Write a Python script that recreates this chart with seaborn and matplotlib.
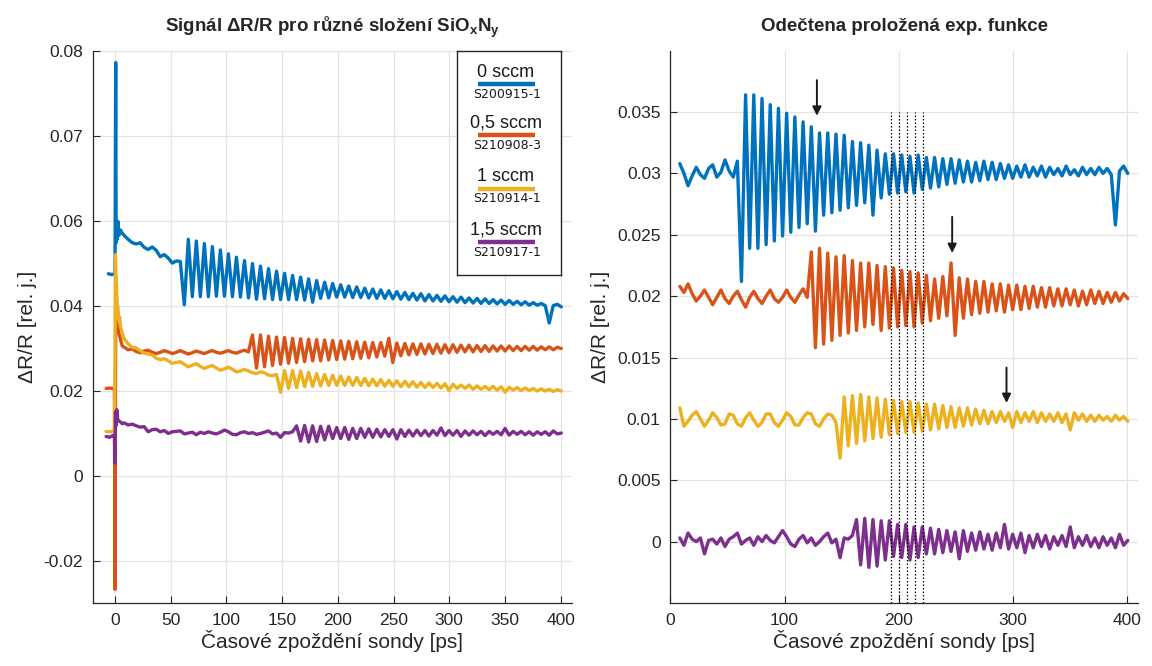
import numpy as np
import matplotlib
matplotlib.use("Agg")
import matplotlib.pyplot as plt
import seaborn as sns

# ---------------- data (values in units of 1e-4) ----------------
SCALE = 1e-4
grid_start, grid_step, grid_stop = 8.2, 3.6, 401.0   # probe-delay sampling [ps]

# right panel: signal minus fitted exponential (offset traces)
right_blue = [308,300,290,298,305,299,296,304,307,297,
              301,311,302,297,310,212,364,239,364,239,
              361,242,356,245,353,249,349,252,346,256,
              342,259,338,253,333,266,333,268,332,270,
              331,272,326,274,325,276,323,266,319,280,
              316,283,316,284,315,285,314,284,315,287,
              313,288,313,289,312,291,312,292,311,293,
              310,293,309,294,310,295,309,295,308,296,
              307,296,306,297,307,297,305,298,306,297,
              305,299,304,298,306,299,303,298,305,299,
              304,299,305,300,304,299,258,302,306,300]
right_orange = [208,203,210,202,196,200,205,199,193,199,
                205,198,194,200,204,197,191,199,204,198,
                194,200,205,198,195,199,205,199,195,201,
                206,199,236,158,239,161,235,164,232,168,
                233,170,229,172,227,175,227,177,225,172,
                224,174,223,175,221,176,220,175,219,178,
                217,180,214,182,216,184,227,168,215,182,
                214,185,212,186,212,187,210,188,210,187,
                209,189,209,189,208,190,208,191,207,191,
                207,192,206,192,206,193,205,192,204,193,
                205,194,204,194,203,195,203,196,202,198]
right_yellow = [109,94,98,103,106,100,94,99,105,101,
                95,96,104,103,96,94,101,105,99,94,
                97,104,104,97,94,99,105,102,95,95,
                101,105,104,96,94,100,104,103,97,68,
                118,78,119,80,120,82,118,84,117,85,
                116,87,115,88,114,89,114,89,113,90,
                112,91,112,92,111,93,110,93,109,94,
                109,95,108,96,107,96,106,97,106,98,
                105,93,106,97,105,98,106,97,105,98,
                104,98,105,97,104,91,105,99,104,98,
                103,98,103,99,102,98,103,99,102,98]
right_purple = [3,-3,7,2,0,3,-10,1,2,-2,
                3,-4,2,4,7,-2,1,3,-3,4,
                0,5,1,-1,4,9,4,-2,-4,2,
                5,-1,3,-3,0,4,7,-1,2,-13,
                3,2,5,18,-19,19,-21,18,-20,17,
                -15,17,-12,14,-13,14,-15,12,-13,12,
                -10,11,-10,10,-9,9,-8,8,-14,9,
                -8,7,-7,8,-6,6,-7,7,-5,14,
                -6,6,-5,7,-9,5,-5,6,-4,5,
                -6,4,-3,5,-4,12,-5,4,-3,5,
                -4,3,-5,4,-3,3,-5,6,-3,1]

# left panel: raw signal; early part (around zero delay) + regular grid part
left_blue_t0 = [-6,-3,-1,0,0.6,1.0,1.5,2.0,2.6,3.4,4.2,5.0,6.0]
left_blue_v0 = [475,473,474,478,786,548,590,556,598,565,575,578,572]
left_blue = [565,556,548,545,548,537,532,538,530,515,
             520,512,500,505,504,402,556,421,552,421,
             546,421,539,422,531,422,522,421,514,420,
             506,418,499,415,493,416,487,414,481,414,
             476,414,471,414,467,413,463,408,459,417,
             455,418,452,420,449,420,446,419,444,419,
             441,418,439,417,437,417,435,416,433,415,
             431,414,429,413,428,411,426,411,424,410,
             423,409,421,408,420,407,418,406,417,405,
             416,405,414,404,413,403,412,403,410,402,
             409,401,407,401,405,400,359,400,403,397]
left_orange_t0 = [-8,-5,-2,-0.5,0,0.6,1.5,2.5,3.5,5.0,6.5]
left_orange_v0 = [205,206,205,204,-268,370,340,355,335,320,305]
left_orange = [302,296,298,292,289,293,295,290,287,290,
               294,291,287,290,294,290,286,289,293,290,
               287,291,294,290,288,291,294,290,288,292,
               295,291,331,253,331,256,328,259,326,262,
               325,264,323,266,322,268,321,270,320,270,
               319,272,318,273,317,274,316,275,315,276,
               314,277,313,279,313,281,323,266,312,282,
               311,284,310,285,310,286,309,287,309,288,
               308,289,308,290,307,291,307,291,306,292,
               306,292,305,293,305,293,305,294,304,294,
               304,295,304,295,303,296,303,296,302,299]
left_yellow_t0 = [-8,-5,-2,-0.5,0,0.3,1.0,1.8,2.6,3.4,4.2,5.0,6.5]
left_yellow_v0 = [104,103,104,103,280,520,470,410,395,365,372,350,335]
left_yellow = [322,310,302,300,294,288,286,284,276,273,
               275,270,264,266,268,262,256,260,263,257,
               252,256,259,253,248,251,255,250,244,246,
               250,246,242,240,244,242,236,235,238,196,
               247,205,247,207,246,209,243,210,240,211,
               238,212,236,212,234,212,232,212,231,212,
               229,211,227,211,226,210,224,210,223,209,
               222,209,221,208,219,207,218,207,217,206,
               216,200,215,205,213,205,213,203,211,203,
               210,202,210,201,209,196,208,201,207,200,
               206,200,205,199,204,199,203,198,202,199]
left_purple_t0 = [-8,-5,-2,-0.5,0,0.4,1.0,1.6,2.5,3.5,5.0,6.5]
left_purple_v0 = [92,90,94,92,29,150,118,155,130,128,126,122]
left_purple = [124,119,121,117,114,115,103,108,109,103,
               106,99,103,104,105,98,100,102,96,102,
               99,103,100,98,102,107,103,97,96,101,
               103,99,101,97,99,102,105,98,100,90,
               101,100,103,117,81,118,79,117,80,116,
               84,116,87,113,87,113,85,111,87,111,
               90,110,90,109,91,108,92,108,86,108,
               92,107,93,107,94,106,93,106,95,112,
               94,106,95,106,92,105,95,105,96,104,
               94,104,97,104,96,111,95,104,97,104,
               96,103,95,103,97,103,95,105,98,100]

legend_labels = ["0 sccm", "0,5 sccm", "1 sccm", "1,5 sccm"]
sample_ids = ["S200915-1", "S210908-3", "S210914-1", "S210917-1"]
colors = ["#0072BD", "#D95319", "#EDB120", "#7E2F8E"]

left_yticks = [-0.02, 0, 0.02, 0.04, 0.06, 0.07, 0.08]
right_yticks = [0, 0.005, 0.01, 0.015, 0.02, 0.025, 0.03, 0.035]
marker_lines_t = [193, 200, 207, 214, 221]
arrow_t = [128.3, 246.8, 294.4]
arrow_top = [0.0376, 0.02646, 0.01418]
arrow_tip = [0.0347, 0.02352, 0.0113]

# ---------------- style ----------------
sns.set_theme(style="whitegrid")
plt.rcParams["font.family"] = ["Liberation Sans", "DejaVu Sans"]
plt.rcParams["mathtext.fontset"] = "custom"
plt.rcParams["mathtext.rm"] = "Liberation Sans"
plt.rcParams["mathtext.bf"] = "Liberation Sans:bold"
plt.rcParams["axes.unicode_minus"] = False

T = np.arange(grid_start, grid_stop, grid_step)

fig = plt.figure(figsize=(11.52, 6.66), dpi=100)
axL = fig.add_axes([0.0805, 0.0946, 0.4158, 0.8293])
axR = fig.add_axes([0.5820, 0.0946, 0.40625, 0.8293])

LW = 2.4
left_sets = [(left_blue_t0, left_blue_v0, left_blue),
             (left_orange_t0, left_orange_v0, left_orange),
             (left_yellow_t0, left_yellow_v0, left_yellow),
             (left_purple_t0, left_purple_v0, left_purple)]
for (t0, v0, vg), c in zip(left_sets, colors):
    t = np.concatenate([np.array(t0, float), T])
    v = np.concatenate([np.array(v0, float), np.array(vg, float)]) * SCALE
    sns.lineplot(x=t, y=v, ax=axL, color=c, linewidth=LW, estimator=None, sort=False)

for vg, c in zip([right_blue, right_orange, right_yellow, right_purple], colors):
    sns.lineplot(x=T, y=np.array(vg, float) * SCALE, ax=axR, color=c,
                 linewidth=LW, estimator=None, sort=False)

# piecewise y-scale of the left panel (upper part expanded)
def fwd(y):
    y = np.asarray(y, float)
    return np.where(y > 0.06, 0.06 + 2 * (y - 0.06), y)

def inv(z):
    z = np.asarray(z, float)
    return np.where(z > 0.06, 0.06 + (z - 0.06) / 2, z)

axL.set_yscale("function", functions=(fwd, inv))
axL.set_ylim(-0.03, 0.08)
axL.set_xlim(-20, 410)
axL.set_yticks(left_yticks)
axL.yaxis.set_minor_locator(matplotlib.ticker.NullLocator())
axL.set_xticks(np.arange(0, 401, 50))

axR.set_ylim(-0.005, 0.04)
axR.set_xlim(0, 410)
axR.set_yticks(right_yticks)
axR.set_xticks([0, 100, 200, 300, 400])

fmt = matplotlib.ticker.FuncFormatter(lambda v, p: "%g" % round(v, 4))
for ax in (axL, axR):
    ax.yaxis.set_major_formatter(fmt)
    ax.grid(True, color="#e3e3e3", linewidth=0.9)
    for s in ("top", "right"):
        ax.spines[s].set_visible(False)
    for s in ("left", "bottom"):
        ax.spines[s].set_color("#262626")
        ax.spines[s].set_linewidth(0.9)
    ax.tick_params(direction="in", length=5, width=0.8, colors="#262626",
                   labelsize=12.5, pad=7, left=True, bottom=True)
    ax.set_xlabel("Časové zpoždění sondy [ps]", fontsize=15, color="#262626", labelpad=2)
    ax.set_ylabel("ΔR/R [rel. j.]", fontsize=15, color="#262626", labelpad=5)
    ax.set_facecolor("white")

axL.set_title(r"Signál ΔR/R pro různé složení SiO$_{\mathbf{x}}$N$_{\mathbf{y}}$",
              fontsize=13.5, fontweight="bold", pad=14)
axR.set_title("Odečtena proložená exp. funkce", fontsize=13.5, fontweight="bold", pad=14)

# markers on the right panel
axR.vlines(marker_lines_t, -0.005, 0.035, colors="black", linestyles=(0, (1.2, 1.6)),
           linewidth=0.9, zorder=5)
for t, y0, y1 in zip(arrow_t, arrow_top, arrow_tip):
    axR.annotate("", xy=(t, y1), xytext=(t, y0),
                 arrowprops=dict(arrowstyle="-|>", color="#1a1a1a", lw=1.4,
                                 mutation_scale=13, shrinkA=0, shrinkB=0), zorder=6)

# custom legend box
lax = fig.add_axes([0.3967, 0.5871, 0.0903, 0.3368])
lax.set_xlim(0, 1)
lax.set_ylim(0, 1)
lax.set_xticks([])
lax.set_yticks([])
lax.grid(False)
lax.set_facecolor("white")
for s in lax.spines.values():
    s.set_visible(True)
    s.set_color("#262626")
    s.set_linewidth(1.0)
label_y = [0.904, 0.676, 0.438, 0.200]
for i, (lab, sid, c) in enumerate(zip(legend_labels, sample_ids, colors)):
    y = label_y[i]
    lax.text(0.47, y, lab, ha="center", va="center", fontsize=13, color="#1a1a1a")
    lax.plot([0.202, 0.75], [y - 0.053, y - 0.053], color=c, linewidth=3.2,
             solid_capstyle="butt")
    lax.text(0.48, y - 0.098, sid, ha="center", va="center", fontsize=9,
             color="#1a1a1a", family="DejaVu Sans")

fig.savefig("out.png", dpi=100)
